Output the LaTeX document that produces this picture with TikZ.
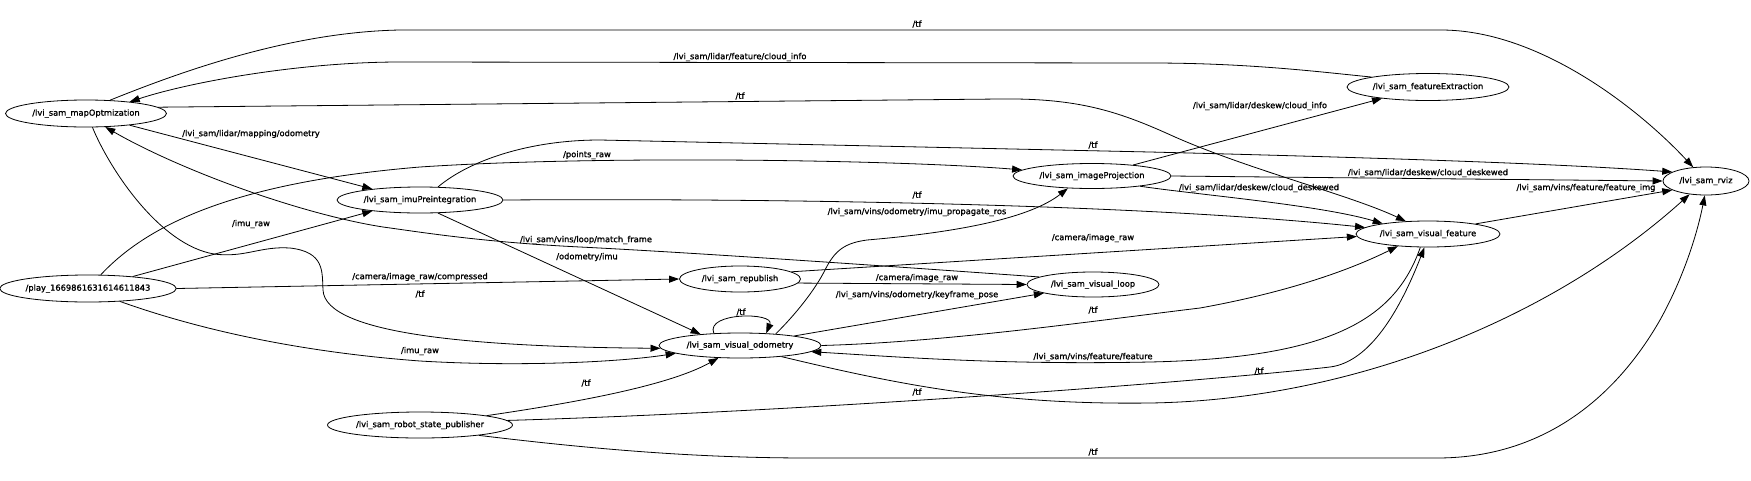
\documentclass[tikz,border=0pt]{standalone}
\usepackage{fontspec}
\setmainfont{DejaVu Sans}
\newfontfamily\graphfam{DejaVu Sans}[FakeBold=1.3]
\usetikzlibrary{shapes.geometric,arrows.meta}
\newcommand\graphfont{\graphfam\fontsize{8.3}{10}\selectfont}
\tikzset{
  nd/.style={draw, ellipse, line width=0.8pt, inner sep=0pt, font=\graphfont},
  tl/.style={inner sep=0pt, font=\graphfont},
  ed/.style={line width=0.8pt, -{Triangle[length=10pt,width=7pt]}},
}
\begin{document}
\begin{tikzpicture}[x=1pt,y=-1pt]
\fill[white] (0,0) rectangle (1751,480);
\useasboundingbox (0,0) rectangle (1751,480);
% nodes
\node[nd, minimum width=161pt, minimum height=27pt] (mo) at (86,113.5) {/lvi\_sam\_mapOptmization};
\node[nd, minimum width=166pt, minimum height=26pt] (ip) at (420,200) {/lvi\_sam\_imuPreintegration};
\node[nd, minimum width=174pt, minimum height=27pt] (play) at (88,288.5) {/play\_1669861631614611843};
\node[nd, minimum width=185pt, minimum height=26pt] (rsp) at (420,425) {/lvi\_sam\_robot\_state\_publisher};
\node[nd, minimum width=158pt, minimum height=25pt] (ipj) at (1092,176) {/lvi\_sam\_imageProjection};
\node[nd, minimum width=121pt, minimum height=26pt] (rep) at (740,279) {/lvi\_sam\_republish};
\node[nd, minimum width=132pt, minimum height=25pt] (vl) at (1093,284.5) {/lvi\_sam\_visual\_loop};
\node[nd, minimum width=86pt, minimum height=28pt] (rviz) at (1706,181) {/lvi\_sam\_rviz};
\node[nd, minimum width=162pt, minimum height=27pt] (fe) at (1428,87) {/lvi\_sam\_featureExtraction};
\node[nd, minimum width=144pt, minimum height=26pt] (vf) at (1428,234) {/lvi\_sam\_visual\_feature};
\node[nd, minimum width=162pt, minimum height=25pt] (vo) at (740,345.5) {/lvi\_sam\_visual\_odometry};
% edges
\draw[ed] (mo.29) .. controls (180,72) and (290,32) .. (400,30) -- (1441,30) .. controls (1540,30) and (1640,110) .. (rviz.133);
\draw[ed] (fe.170) .. controls (1320,72) and (1250,63) .. (1150,63) -- (400,62) .. controls (300,62) and (190,82) .. (mo.15);
\draw[ed] (mo.5) -- (1000,99) .. controls (1080,98) and (1120,112) .. (1175,137) .. controls (1250,170) and (1350,195) .. (vf.150);
\draw[ed] (mo.-15) -- (ip.167);
\draw[ed] (play.47) .. controls (150,222) and (240,182) .. (420,167) .. controls (600,155) and (900,160) .. (ipj.175);
\draw[ed] (ip.36) .. controls (470,160) and (530,140) .. (600,140) -- (1150,152) .. controls (1350,157) and (1550,163) .. (rviz.165);
\draw[ed] (ip.0) .. controls (800,198) and (1150,205) .. (vf.174);
\draw[ed] (play.15) -- (ip.193);
\draw[ed] (vl.172) .. controls (900,267) and (700,253) .. (580,247) .. controls (480,242) and (420,232) .. (383,227) .. controls (300,214) and (180,170) .. (mo.-35);
\draw[ed] (ip.-36) -- (vo.164);
\draw[ed] (mo.-65) .. controls (110,170) and (160,245) .. (214,254) .. controls (245,258) and (260,246) .. (290,248) .. controls (325,252) and (322,272) .. (323,290) .. controls (325,335) and (480,347) .. (vo.182);
\draw[ed] (play.0) -- (rep.180);
\draw[ed] (play.-22) .. controls (200,330) and (300,352) .. (420,361) .. controls (520,367) and (620,362) .. (vo.187);
\draw[ed] (rsp.8) .. controls (580,402) and (670,385) .. (vo.-150);
\draw[ed] (rsp.3) .. controls (800,412) and (1200,382) .. (1330,367) .. controls (1370,362) and (1400,310) .. (vf.-105);
\draw[ed] (vo.-15) .. controls (900,385) and (1000,405) .. (1150,403) .. controls (1350,400) and (1550,320) .. (rviz.-141);
\draw[ed] (rsp.-10) .. controls (600,450) and (700,458) .. (810,458) -- (1437,458) .. controls (1550,458) and (1620,390) .. (1660,320) .. controls (1685,275) and (1698,230) .. (rviz.-95);
\draw[ed] (vf.-120) .. controls (1395,320) and (1330,358) .. (1150,362) .. controls (1000,365) and (900,357) .. (vo.-5);
\draw[ed] (vo.0) .. controls (950,342) and (1100,320) .. (1200,308) .. controls (1300,290) and (1360,265) .. (vf.-158);
\draw[ed] (vo.155) .. controls (705,312) and (775,312) .. (vo.25);
\draw[ed] (rep.-4) -- (vl.180);
\draw[ed] (rep.8) -- (vf.182);
\draw[ed] (vo.10) -- (vl.190);
\draw[ed] (vo.18) .. controls (795,315) and (815,290) .. (825,270) .. controls (835,250) and (845,243) .. (867,240) .. controls (960,232) and (1030,218) .. (ipj.-153);
\draw[ed] (ipj.15) -- (fe.-166);
\draw[ed] (ipj.0) -- (rviz.180);
\draw[ed] (ipj.-12) .. controls (1200,195) and (1320,205) .. (vf.167);
\draw[ed] (vf.12) -- (rviz.-165);
% labels
\node[tl] (t1) at (917,24) {/tf};
\node[tl] (t2) at (740,57) {/lvi\_sam/lidar/feature/cloud\_info};
\node[tl] (t3) at (740,96) {/tf};
\node[tl] (t4) at (251,134) {/lvi\_sam/lidar/mapping/odometry};
\node[tl] (t5) at (1260,106) {/lvi\_sam/lidar/deskew/cloud\_info};
\node[tl] (t6) at (587,155) {/points\_raw};
\node[tl] (t7) at (1093,145) {/tf};
\node[tl] (t8) at (917,195) {/tf};
\node[tl] (t9) at (1428,173) {/lvi\_sam/lidar/deskew/cloud\_deskewed};
\node[tl] (t10) at (1259,188) {/lvi\_sam/lidar/deskew/cloud\_deskewed};
\node[tl] (t11) at (1586,188) {/lvi\_sam/vins/feature/feature\_img};
\node[tl] (t12) at (917,212) {/lvi\_sam/vins/odometry/imu\_propagate\_ros};
\node[tl] (t13) at (251,224) {/imu\_raw};
\node[tl] (t14) at (586,240) {/lvi\_sam/vins/loop/match\_frame};
\node[tl] (t15) at (1093,238) {/camera/image\_raw};
\node[tl] (t16) at (587,257) {/odometry/imu};
\node[tl] (t17) at (420,277) {/camera/image\_raw/compressed};
\node[tl] (t18) at (917,278) {/camera/image\_raw};
\node[tl] (t19) at (420,294) {/tf};
\node[tl] (t20) at (917,295) {/lvi\_sam/vins/odometry/keyframe\_pose};
\node[tl] (t21) at (741,312) {/tf};
\node[tl] (t22) at (1093,310) {/tf};
\node[tl] (t23) at (420,351) {/imu\_raw};
\node[tl] (t24) at (1093,357) {/lvi\_sam/vins/feature/feature};
\node[tl] (t25) at (586,383) {/tf};
\node[tl] (t26) at (1259,371) {/tf};
\node[tl] (t27) at (917,392) {/tf};
\node[tl] (t28) at (1093,452) {/tf};
\end{tikzpicture}
\end{document}
